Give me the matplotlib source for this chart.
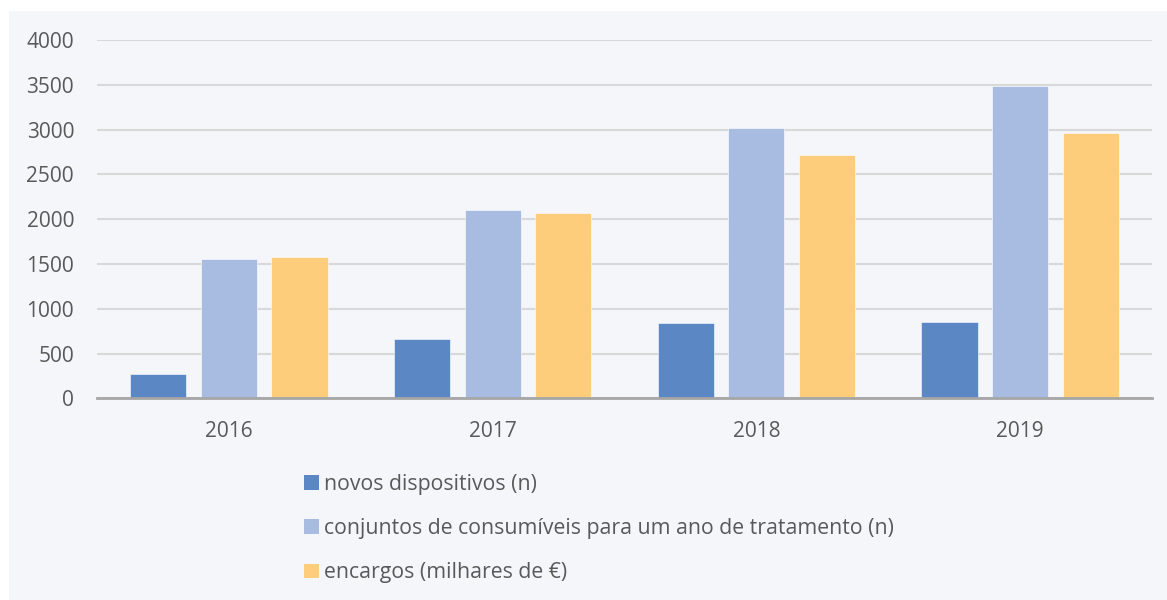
import matplotlib
matplotlib.use("Agg")
import matplotlib.pyplot as plt
import numpy as np
from matplotlib.patches import Rectangle, Patch

years = ["2016", "2017", "2018", "2019"]
novos_dispositivos = [270, 661, 846, 851]
conjuntos_consumiveis = [1558, 2102, 3018, 3490]
encargos = [1577, 2065, 2718, 2966]
series_labels = [
    "novos dispositivos (n)",
    "conjuntos de consumíveis para um ano de tratamento (n)",
    "encargos (milhares de €)",
]
colors = ["#5B87C5", "#A8BBE1", "#FECD7C"]
yticks = [0, 500, 1000, 1500, 2000, 2500, 3000, 3500, 4000]

plt.rcParams["font.family"] = ["Open Sans", "DejaVu Sans"]
W, H = 1167, 600
fig = plt.figure(figsize=(W / 100, H / 100), dpi=100, facecolor="white")
fig.patches.append(Rectangle((9 / W, 0), 1 - 9 / W, 1 - 11 / H, transform=fig.transFigure,
                             facecolor="#F4F6FA", edgecolor="none", zorder=-10))

left, right = 97 / W, 1152 / W
bottom, top = 1 - 398.3 / H, 1 - 40 / H
ax = fig.add_axes([left, bottom, right - left, top - bottom])
ax.set_facecolor("none")

x = np.arange(len(years))
step = 0.268
width = 0.213
for i, (vals, col, lab) in enumerate(zip([novos_dispositivos, conjuntos_consumiveis, encargos], colors, series_labels)):
    ax.bar(x + (i - 1) * step, vals, width=width, color=col, label=lab, zorder=3,
           edgecolor="#FFFFFF", linewidth=0.4)

ax.set_xlim(-0.5, len(years) - 0.5)
ax.set_ylim(0, 4000)
ax.set_yticks(yticks)
ax.set_yticklabels([str(t) for t in yticks])
ax.set_xticks(x)
ax.set_xticklabels(years)
ax.grid(axis="y", color="#D9D9D9", linewidth=1.5, zorder=0)
for s in ["top", "right", "left"]:
    ax.spines[s].set_visible(False)
ax.spines["bottom"].set_color("#A6A6A6")
ax.spines["bottom"].set_linewidth(2)
ax.spines["bottom"].set_zorder(4)
ax.tick_params(axis="both", length=0, labelsize=15, colors="#595959")
ax.tick_params(axis="y", pad=16.5)
ax.tick_params(axis="x", pad=16)

handles = [Patch(facecolor=c, edgecolor="none") for c in colors]
leg = fig.legend(handles, series_labels, loc="upper left", bbox_to_anchor=(285 / W, 1 - 455 / H),
                 frameon=False, fontsize=15.3, labelcolor="#595959", handlelength=0.7,
                 handleheight=0.7, handletextpad=0.25, labelspacing=1.09)

fig.savefig("out.png", dpi=100, facecolor=fig.get_facecolor())
